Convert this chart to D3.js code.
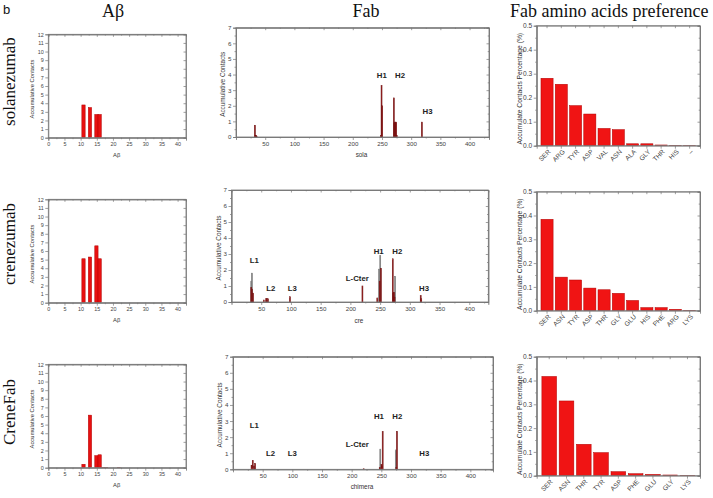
<!DOCTYPE html>
<html><head><meta charset="utf-8">
<script src="https://cdn.jsdelivr.net/npm/d3@7"></script>
<style>body{margin:0;background:#fff} svg{display:block}</style>
</head><body><svg id="c" width="713" height="498"></svg>
<script>
// ---------------- data ----------------
const panelLetter = "b";
const rowNames = ["solanezumab", "crenezumab", "CreneFab"];
const columnTitles = ["Aβ", "Fab", "Fab amino acids preference"];

// Aβ accumulative contacts per residue
const abResidues = [11, 13, 15, 16, 17, 18, 22];
const abSola = [3.8, 3.5, 2.7, 2.7, 0, 0, 0];
const abCre = [5.1, 5.3, 6.6, 5.1, 0, 0, 0];
const abCreneFab = [0.4, 6.1, 1.4, 1.5, 0.03, 0.03, 0.02];
const abXTicks = [0, 5, 10, 15, 20, 25, 30, 35, 40];
const abYTicks = [0, 1, 2, 3, 4, 5, 6, 7, 8, 9, 10, 11, 12];

// Fab accumulative contacts per residue (two overlaid series: grey and dark red)
const fabSolaRedRes = [32, 33, 34, 35, 248, 249, 250, 270, 271, 272, 273, 274, 275, 318];
const fabSolaRedVal = [0.75, 0.1, 0.1, 0.05, 0.1, 3.3, 2.0, 2.5, 0.9, 0.95, 0.9, 0.95, 0.1, 0.95];
const fabSolaGreyRes = [];
const fabSolaGreyVal = [];

const fabCreGreyRes = [33, 34, 248, 250, 275];
const fabCreGreyVal = [1.3, 1.8, 2.05, 2.9, 1.6];
const fabCreRedRes = [33, 34, 36, 54, 58, 59, 61, 98, 220, 245, 249, 251, 271, 272, 273, 274, 318, 319];
const fabCreRedVal = [0.9, 0.8, 0.55, 0.12, 0.2, 0.22, 0.2, 0.33, 1.0, 0.25, 1.3, 2.1, 2.7, 0.55, 0.6, 0.3, 0.4, 0.2];

const fabChiGreyRes = [32, 248, 274];
const fabChiGreyVal = [0.25, 1.25, 1.2];
const fabChiRedRes = [31, 33, 35, 37, 220, 247, 250, 251, 252, 275, 276];
const fabChiRedVal = [0.25, 0.55, 0.2, 0.35, 0.03, 0.1, 0.3, 0.2, 2.35, 0.1, 2.35];

const fabXTicks = [50, 100, 150, 200, 250, 300, 350, 400];
const fabYTicks = [0, 1, 2, 3, 4, 5, 6, 7];
const fabXLabels = ["sola", "cre", "chimera"];

// region annotations (residue, contacts)
const annSolaText = ["H1", "H2", "H3"];
const annSolaX = [249.8, 281, 328];
const annSolaY = [3.97, 3.97, 1.62];
const annCreText = ["L1", "L2", "L3", "L-Cter", "H1", "H2", "H3"];
const annCreX = [38.4, 66, 102.3, 211.6, 247.6, 279, 323.9];
const annCreY = [2.63, 0.86, 0.86, 1.46, 3.19, 3.19, 0.86];
const annChiText = ["L1", "L2", "L3", "L-Cter", "H1", "H2", "H3"];
const annChiX = [35.9, 63.5, 100, 209.5, 246, 277, 322.4];
const annChiY = [2.75, 0.99, 0.99, 1.57, 3.31, 3.31, 0.99];

// Fab amino-acid preference
const aaSolaNames = ["SER", "ARG", "TYR", "ASP", "VAL", "ASN", "ALA", "GLY", "THR", "HIS", "–"];
const aaSolaVals = [0.281, 0.256, 0.167, 0.132, 0.072, 0.067, 0.008, 0.008, 0.003, 0.0015, 0.001];
const aaCreNames = ["SER", "ASN", "TYR", "ASP", "THR", "GLY", "GLU", "HIS", "PHE", "ARG", "LYS"];
const aaCreVals = [0.384, 0.141, 0.129, 0.095, 0.088, 0.073, 0.043, 0.013, 0.013, 0.006, 0.0015];
const aaChiNames = ["SER", "ASN", "THR", "TYR", "ASP", "PHE", "GLU", "GLY", "LYS"];
const aaChiVals = [0.417, 0.314, 0.132, 0.097, 0.017, 0.0084, 0.0056, 0.003, 0.0014];
const aaYTicks = [0, 0.1, 0.2, 0.3, 0.4, 0.5];

// ---------------- drawing ----------------
const svg = d3.select("#c");
const SANS = "Liberation Sans, Arial, sans-serif";
const SERIF = "Liberation Serif, Times New Roman, serif";
const AX = "#777", TXT = "#444";

svg.append("text").attr("x", 3).attr("y", 14).attr("font-family", SANS)
  .attr("font-size", 13).attr("fill", "#111").text(panelLetter);

const titleX = [113, 366, 510];
const titleAnchor = ["middle", "middle", "start"];
columnTitles.forEach((t, i) => svg.append("text").attr("x", titleX[i]).attr("y", 16.5)
  .attr("text-anchor", titleAnchor[i]).attr("font-family", SERIF).attr("font-size", 18)
  .attr("fill", "#111").text(t));

const rowCenters = [81.5, 244, 412];
rowNames.forEach((t, i) => svg.append("text")
  .attr("transform", `translate(15,${rowCenters[i]}) rotate(-90)`)
  .attr("text-anchor", "middle").attr("font-family", SERIF).attr("font-size", 17)
  .attr("fill", "#111").text(t));

function styleAxis(g, fs) {
  g.select(".domain").attr("stroke", AX).attr("stroke-width", 0.8);
  g.selectAll(".tick line").attr("stroke", AX).attr("stroke-width", 0.7);
  g.selectAll(".tick text").attr("fill", TXT).attr("font-family", SANS).attr("font-size", fs);
}

function frameAxes(x, y, xMajor, xMinor, yMajor, yMinor, opt) {
  const [b, t] = y.range();
  const fs = opt.fs;
  const gb = svg.append("g").attr("transform", `translate(0,${b})`)
    .call(d3.axisBottom(x).tickValues(xMajor).tickSize(3).tickPadding(1.5).tickFormat(d3.format("d")));
  styleAxis(gb, fs);
  const gbm = svg.append("g").attr("transform", `translate(0,${b})`)
    .call(d3.axisBottom(x).tickValues(xMinor).tickSize(1.5).tickFormat(""));
  styleAxis(gbm, fs);
  const gt = svg.append("g").attr("transform", `translate(0,${t})`)
    .call(d3.axisTop(x).tickValues(xMajor).tickSize(-2.5).tickFormat(""));
  styleAxis(gt, fs);
  const gtm = svg.append("g").attr("transform", `translate(0,${t})`)
    .call(d3.axisTop(x).tickValues(xMinor).tickSize(-1.3).tickFormat(""));
  styleAxis(gtm, fs);
  const gl = svg.append("g").attr("transform", `translate(${opt.left},0)`)
    .call(d3.axisLeft(y).tickValues(yMajor).tickSize(3).tickPadding(1.5).tickFormat(d3.format("d")));
  styleAxis(gl, fs);
  if (yMinor) {
    const glm = svg.append("g").attr("transform", `translate(${opt.left},0)`)
      .call(d3.axisLeft(y).tickValues(yMinor).tickSize(1.5).tickFormat(""));
    styleAxis(glm, fs);
  }
  const gr = svg.append("g").attr("transform", `translate(${opt.right},0)`)
    .call(d3.axisRight(y).tickValues(yMajor).tickSize(-2.5).tickFormat(""));
  styleAxis(gr, fs);
  if (yMinor) {
    const grm = svg.append("g").attr("transform", `translate(${opt.right},0)`)
      .call(d3.axisRight(y).tickValues(yMinor).tickSize(-1.3).tickFormat(""));
    styleAxis(grm, fs);
  }
  svg.append("rect").attr("x", opt.left).attr("y", t).attr("width", opt.right - opt.left)
    .attr("height", b - t).attr("fill", "none").attr("stroke", AX).attr("stroke-width", 0.8);
}

function yLabel(txt, cx, cy, fs) {
  svg.append("text").attr("transform", `translate(${cx},${cy}) rotate(-90)`)
    .attr("text-anchor", "middle").attr("dy", "0.35em").attr("font-family", SANS)
    .attr("font-size", fs).attr("fill", "#333").text(txt);
}
function xLabel(txt, cx, cy, fs) {
  svg.append("text").attr("x", cx).attr("y", cy).attr("text-anchor", "middle")
    .attr("dy", "0.35em").attr("font-family", SANS).attr("font-size", fs)
    .attr("fill", "#333").text(txt);
}

// ---- Aβ column ----
const abRows = [abSola, abCre, abCreneFab];
const abTop = [34.3, 199.3, 364.3], abBot = [137.7, 302.7, 467.7];
const abL = 48.3, abR = 186;
abRows.forEach((vals, i) => {
  const x = d3.scaleLinear().domain([0, 42.6]).range([abL, abR]);
  const y = d3.scaleLinear().domain([0, 12]).range([abBot[i], abTop[i]]);
  svg.append("g").selectAll("rect").data(abResidues.map((r, k) => ({ r, v: vals[k] })).filter(d => d.v > 0))
    .join("rect")
    .attr("x", d => x(d.r - 0.62)).attr("width", d => x(d.r + 0.4) - x(d.r - 0.62))
    .attr("y", d => y(d.v)).attr("height", d => y(0) - y(d.v))
    .attr("fill", "#e81010").attr("stroke", "#b00000").attr("stroke-width", 0.5);
  frameAxes(x, y, abXTicks, d3.range(2.5, 42, 5), abYTicks, null,
    { left: abL, right: abR, fs: 5.4 });
  yLabel("Accumulative Contacts", 31.7, (abTop[i] + abBot[i]) / 2 + 3, 5.8);
  xLabel("Aβ", 116.7, abBot[i] + 17.5, 5.8);
});

// ---- Fab column ----
const fabRows = [
  { grey: [fabSolaGreyRes, fabSolaGreyVal], red: [fabSolaRedRes, fabSolaRedVal], ann: [annSolaText, annSolaX, annSolaY] },
  { grey: [fabCreGreyRes, fabCreGreyVal], red: [fabCreRedRes, fabCreRedVal], ann: [annCreText, annCreX, annCreY] },
  { grey: [fabChiGreyRes, fabChiGreyVal], red: [fabChiRedRes, fabChiRedVal], ann: [annChiText, annChiX, annChiY] }
];
const fabGeo = [
  { l: 236, r: 489, t: 27.7, b: 137, max: 433.3, lx: 222.7, xl: 155 },
  { l: 231.5, r: 488.3, t: 190, b: 302, max: 432, lx: 218.7, xl: 320.7 },
  { l: 233, r: 493, t: 356.7, b: 469.3, max: 438.2, lx: 220, xl: 486.7 }
];
fabRows.forEach((row, i) => {
  const G = fabGeo[i];
  const x = d3.scaleLinear().domain([0, G.max]).range([G.l, G.r]);
  const y = d3.scaleLinear().domain([0, 7]).range([G.b, G.t]);
  const drawSeries = (res, vals, fill, stroke) => {
    svg.append("g").selectAll("rect").data(res.map((r, k) => ({ r, v: vals[k] })))
      .join("rect")
      .attr("x", d => x(d.r - 0.5)).attr("width", d => Math.max(0.9, x(d.r + 0.5) - x(d.r - 0.5)))
      .attr("y", d => y(d.v)).attr("height", d => y(0) - y(d.v))
      .attr("fill", fill).attr("stroke", stroke).attr("stroke-width", 0.6);
  };
  drawSeries(row.grey[0], row.grey[1], "#9a9a9a", "#6e6e6e");
  drawSeries(row.red[0], row.red[1], "#b22222", "#6a0d0d");
  frameAxes(x, y, fabXTicks, d3.range(25, G.max, 50), fabYTicks, d3.range(0.5, 7, 1),
    { left: G.l, right: G.r, fs: 6.2 });
  yLabel("Accumulative Contacts", G.lx, (G.t + G.b) / 2 + 2, 6.4);
  xLabel(fabXLabels[i], (G.l + G.r) / 2 - 1, G.xl, 6.4);
  const [txts, ax, ay] = row.ann;
  svg.append("g").selectAll("text").data(txts.map((t, k) => ({ t, r: ax[k], v: ay[k] })))
    .join("text").attr("x", d => x(d.r)).attr("y", d => y(d.v)).attr("dy", "0.35em")
    .attr("text-anchor", "middle").attr("font-family", SANS).attr("font-weight", "bold")
    .attr("font-size", 7.8).attr("fill", "#222").text(d => d.t);
});

// ---- amino-acid preference column ----
const aaRows = [[aaSolaNames, aaSolaVals], [aaCreNames, aaCreVals], [aaChiNames, aaChiVals]];
const aaTop = [25.7, 191.7, 356.7], aaBot = [145.7, 310.7, 475.7];
const aaL = 536.7, aaR = 700;
aaRows.forEach(([names, vals], i) => {
  const x = d3.scaleBand().domain(names).range([aaL, aaR]).paddingInner(0.15).paddingOuter(0.3);
  const y = d3.scaleLinear().domain([0, 0.5]).range([aaBot[i], aaTop[i]]);
  svg.append("g").selectAll("rect").data(names.map((n, k) => ({ n, v: vals[k] })))
    .join("rect")
    .attr("x", d => x(d.n)).attr("width", x.bandwidth())
    .attr("y", d => y(d.v)).attr("height", d => y(0) - y(d.v))
    .attr("fill", "#f01414").attr("stroke", "#b00000").attr("stroke-width", 0.5);
  const gb = svg.append("g").attr("transform", `translate(0,${aaBot[i]})`)
    .call(d3.axisBottom(x).tickSize(3).tickFormat(""));
  styleAxis(gb, 6);
  const gt = svg.append("g").attr("transform", `translate(0,${aaTop[i]})`)
    .call(d3.axisTop(x).tickSize(-2.5).tickFormat(""));
  styleAxis(gt, 6);
  svg.append("g").selectAll("text").data(names).join("text")
    .attr("transform", d => `translate(${x(d) + x.bandwidth() / 2 + 4},${aaBot[i] + 6.5}) rotate(-45)`)
    .attr("text-anchor", "end").attr("font-family", SANS).attr("font-size", 6.6)
    .attr("fill", TXT).text(d => d);
  const gl = svg.append("g").attr("transform", `translate(${aaL},0)`)
    .call(d3.axisLeft(y).tickValues(aaYTicks).tickSize(3).tickPadding(1.5).tickFormat(d3.format(".1f")));
  styleAxis(gl, 6.6);
  const glm = svg.append("g").attr("transform", `translate(${aaL},0)`)
    .call(d3.axisLeft(y).tickValues(d3.range(0.05, 0.5, 0.1)).tickSize(1.5).tickFormat(""));
  styleAxis(glm, 6);
  const gr = svg.append("g").attr("transform", `translate(${aaR},0)`)
    .call(d3.axisRight(y).tickValues(aaYTicks).tickSize(-2.5).tickFormat(""));
  styleAxis(gr, 6);
  const grm = svg.append("g").attr("transform", `translate(${aaR},0)`)
    .call(d3.axisRight(y).tickValues(d3.range(0.05, 0.5, 0.1)).tickSize(-1.3).tickFormat(""));
  styleAxis(grm, 6);
  svg.append("rect").attr("x", aaL).attr("y", aaTop[i]).attr("width", aaR - aaL)
    .attr("height", aaBot[i] - aaTop[i]).attr("fill", "none").attr("stroke", AX).attr("stroke-width", 0.8);
  yLabel("Accumulate Contacts Percentage (%)", 520, (aaTop[i] + aaBot[i]) / 2 + 3, 6.7);
});
</script></body></html>
